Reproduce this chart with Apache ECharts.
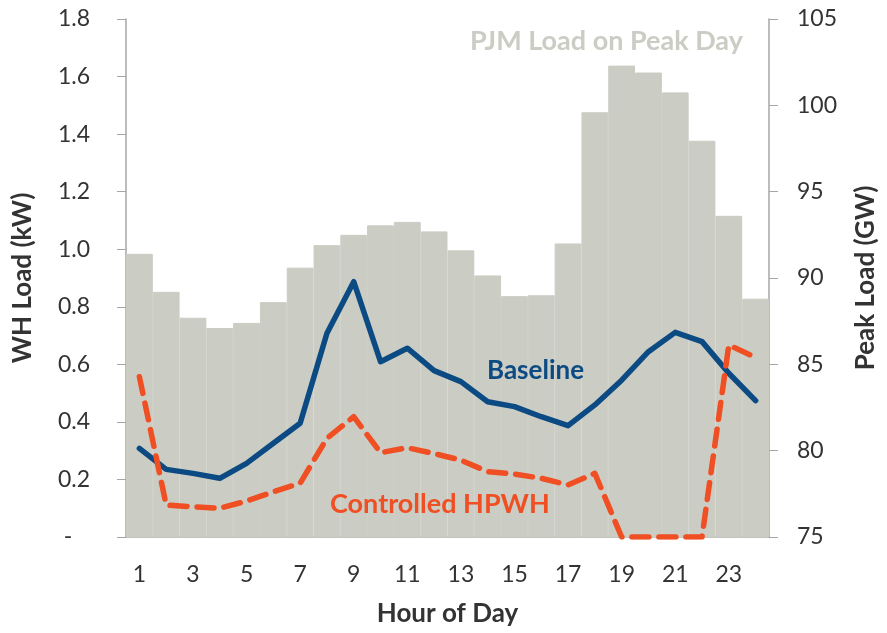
<!DOCTYPE html>
<html>
<head>
<meta charset="utf-8">
<script src="https://cdn.jsdelivr.net/npm/echarts@6/dist/echarts.min.js"></script>
<style>
  html, body { margin: 0; padding: 0; background: #fff; }
  #main { width: 887px; height: 633px; }
</style>
</head>
<body>
<div id="main"></div>
<script>
var hours = ['1','2','3','4','5','6','7','8','9','10','11','12','13','14','15','16','17','18','19','20','21','22','23','24'];
var pjmLoad = [91.4, 89.2, 87.7, 87.1, 87.4, 88.6, 90.6, 91.9, 92.5, 93.05, 93.25, 92.7, 91.6, 90.15, 88.95, 89.0, 92.0, 99.6, 102.3, 101.9, 100.75, 97.95, 93.6, 88.8];
var baseline = [0.308, 0.235, 0.221, 0.204, 0.256, 0.326, 0.395, 0.708, 0.887, 0.609, 0.656, 0.578, 0.54, 0.47, 0.453, 0.418, 0.387, 0.459, 0.545, 0.644, 0.711, 0.679, 0.569, 0.474];
var controlled = [0.557, 0.111, 0.105, 0.10, 0.125, 0.157, 0.187, 0.343, 0.418, 0.293, 0.31, 0.29, 0.267, 0.227, 0.219, 0.204, 0.181, 0.221, 0, 0, 0, 0, 0.667, 0.624];

var chart = echarts.init(document.getElementById('main'));
var font = 'Lato, "Open Sans", sans-serif';
var axisGray = '#a6a6a6';
var textColor = '#333';
var barColor = '#cbccc3';

option = {
    animation: false,
    textStyle: { fontFamily: font },
    grid: {
        left: 126,
        right: 115,
        top: 19,
        bottom: 96
    },
    xAxis: [{
        type: 'category',
        data: hours,
        boundaryGap: true,
        name: 'Hour of Day',
        nameLocation: 'middle',
        nameGap: 64,
        nameTextStyle: { fontSize: 26, fontWeight: 'bold', color: textColor, fontFamily: font },
        axisLine: { lineStyle: { color: axisGray, width: 1.5 } },
        axisTick: { interval: 0, length: 10, lineStyle: { color: axisGray } },
        axisLabel: {
            interval: 1,
            margin: 26,
            fontSize: 23,
            color: textColor,
            fontFamily: font
        }
    }],
    yAxis: [{
        type: 'value',
        min: 0,
        max: 1.8,
        interval: 0.2,
        position: 'left',
        name: 'WH Load (kW)',
        nameLocation: 'middle',
        nameGap: 90,
        nameRotate: 90,
        nameTextStyle: { fontSize: 26, fontWeight: 'bold', color: textColor, fontFamily: font },
        splitLine: { show: false },
        axisLine: { show: true, lineStyle: { color: axisGray, width: 1.5 } },
        axisTick: { show: true, length: 9, lineStyle: { color: axisGray } },
        axisLabel: {
            margin: 36,
            fontSize: 23,
            color: textColor,
            fontFamily: font,
            formatter: function (v) {
                return v === 0 ? '-   ' : v.toFixed(1);
            }
        }
    }, {
        type: 'value',
        min: 75,
        max: 105,
        interval: 5,
        position: 'right',
        name: 'Peak Load (GW)',
        nameLocation: 'middle',
        nameGap: 84,
        nameRotate: 90,
        nameTextStyle: { fontSize: 26, fontWeight: 'bold', color: textColor, fontFamily: font },
        splitLine: { show: false },
        axisLine: { show: true, lineStyle: { color: axisGray, width: 1.5 } },
        axisTick: { show: true, length: 9, lineStyle: { color: axisGray } },
        axisLabel: {
            margin: 28,
            fontSize: 23,
            color: textColor,
            fontFamily: font
        }
    }],
    graphic: [{
        type: 'text',
        left: 470,
        top: 28,
        z: 100,
        style: { text: 'PJM Load on Peak Day', fontSize: 27, fontWeight: 'bold', fill: barColor, fontFamily: font }
    }, {
        type: 'text',
        left: 487,
        top: 358,
        z: 100,
        style: { text: 'Baseline', fontSize: 26, fontWeight: 'bold', fill: '#0b4a82', fontFamily: font }
    }, {
        type: 'text',
        left: 330,
        top: 491,
        z: 100,
        style: { text: 'Controlled HPWH', fontSize: 27, fontWeight: 'bold', fill: '#f04e23', fontFamily: font }
    }],
    series: [{
        name: 'PJM Load on Peak Day',
        type: 'bar',
        yAxisIndex: 1,
        barWidth: '100%',
        barCategoryGap: 0,
        itemStyle: { color: barColor, borderColor: barColor, borderWidth: 1 },
        data: pjmLoad
    }, {
        name: 'Baseline',
        type: 'line',
        yAxisIndex: 0,
        showSymbol: false,
        symbol: 'none',
        lineStyle: { color: '#0b4a82', width: 5.5, cap: 'round', join: 'round' },
        data: baseline
    }, {
        name: 'Controlled HPWH',
        type: 'line',
        yAxisIndex: 0,
        showSymbol: false,
        symbol: 'none',
        lineStyle: { color: '#f04e23', width: 5.5, type: [17, 10], cap: 'round', join: 'round' },
        data: controlled
    }]
};
chart.setOption(option);
</script>
</body>
</html>
